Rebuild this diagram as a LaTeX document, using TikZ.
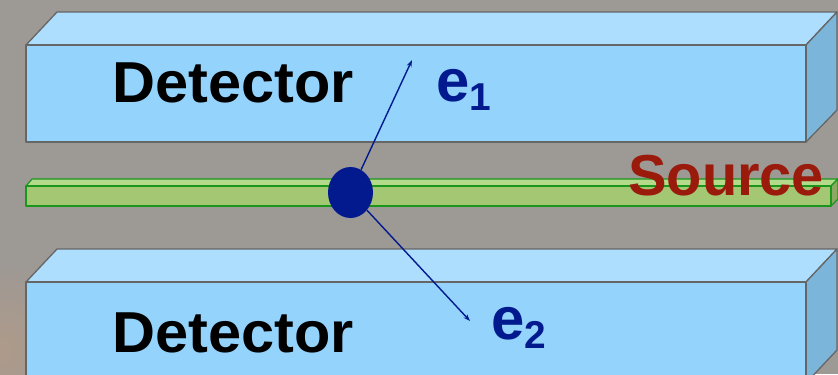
\documentclass[tikz,border=0pt]{standalone}
\usepackage{fontspec}
\setmainfont{Liberation Sans}
\usetikzlibrary{shapes.geometric, arrows.meta}

\definecolor{bggray}{HTML}{9D9995}
\definecolor{bgbrown}{HTML}{AE9A8A}
\definecolor{detfront}{HTML}{93D3FC}
\definecolor{dettop}{HTML}{ADDEFE}
\definecolor{detside}{HTML}{7BB5DA}
\definecolor{barfront}{HTML}{A4C774}
\definecolor{bartop}{HTML}{B4DA8C}
\definecolor{baredge}{HTML}{1A961A}
\definecolor{dotblue}{HTML}{021A8E}
\definecolor{srcred}{HTML}{9A1A0C}

\begin{document}
\begin{tikzpicture}[
    x=1bp, y=-1bp,
    face/.style={draw=black!60, line width=1.3bp, line join=round},
    barface/.style={draw=baredge, line width=1.2bp, line join=round},
    biglabel/.style={anchor=base west, inner sep=0pt, font=\fontsize{58}{60}\selectfont\bfseries},
    elabel/.style={anchor=base west, inner sep=0pt, text=dotblue, font=\fontsize{60}{62}\selectfont\bfseries},
    track/.style={dotblue, line width=1.4bp, -{Stealth[length=7bp, width=5bp]}}
]
    \path[use as bounding box] (0,0) rectangle (838,374);
    \clip (0,0) rectangle (838,374);

    % --- background ---
    \fill[bggray] (0,0) rectangle (838,374);
    \shade[inner color=bgbrown, outer color=bggray] (0,350) circle (90);

    % --- top detector ---
    \fill[dettop, face] (26,45) -- (57,12) -- (837,12) -- (806,45) -- cycle;
    \fill[detside, face] (806,45) -- (837,12) -- (837,110) -- (806,142) -- cycle;
    \fill[detfront, face] (26,45) rectangle (806,142);

    % --- bottom detector ---
    \fill[dettop, face] (26,282) -- (57,249) -- (837,249) -- (806,282) -- cycle;
    \fill[detside, face] (806,282) -- (837,249) -- (837,350) -- (806,383) -- cycle;
    \fill[detfront, face] (26,282) rectangle (806,390);

    % --- source strip ---
    \fill[bartop, barface] (26,186) -- (32,179) -- (838,179) -- (831,186) -- cycle;
    \fill[barfront!85!black, barface] (831,186) -- (838,179) -- (838,199) -- (831,206) -- cycle;
    \fill[barfront, barface] (26,186) rectangle (831,206);

    % --- labels ---
    \node[biglabel, xscale=1.03] (detA) at (112,102) {Detector};
    \node[biglabel, xscale=1.03] (detB) at (112,352) {Detector};
    \node[biglabel, text=srcred] (srclbl) at (628,195) {Source};

    % --- decay point and tracks ---
    \node[ellipse, fill=dotblue, minimum width=45bp, minimum height=51bp, inner sep=0pt] (src) at (350.5,192.5) {};
    \coordinate (tipA) at (412,60);
    \coordinate (tipB) at (470,321);
    \draw[track] (src) -- (tipA);
    \draw[track] (src) -- (tipB);

    \node[elabel] (eA) at (436,101) {e\raisebox{-9bp}{\fontsize{39}{40}\selectfont 1}};
    \node[elabel] (eB) at (491,339) {e\raisebox{-9bp}{\fontsize{39}{40}\selectfont 2}};

\end{tikzpicture}
\end{document}
